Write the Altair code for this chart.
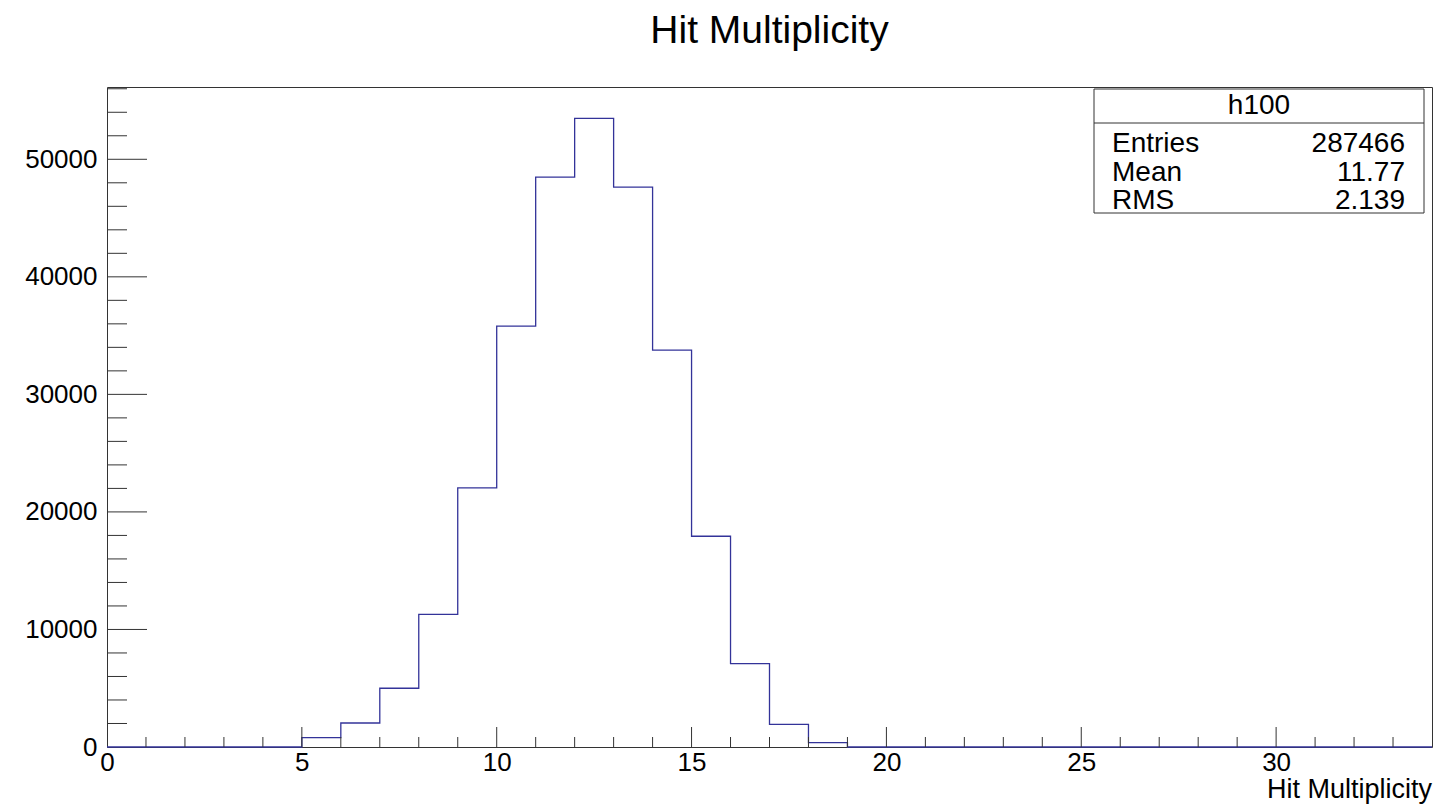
import altair as alt
import pandas as pd

# ---- data ----
bin_low = list(range(34))
counts = [0, 0, 0, 0, 0,
          800, 2040, 5000, 11290, 22050, 35800, 48480, 53480, 47630,
          33760, 17930, 7100, 1930, 375,
          0, 0, 0, 0, 0, 0, 0, 0, 0, 0, 0, 0, 0, 0, 0]
x_major = [5, 10, 15, 20, 25, 30]
x_minor = [v for v in range(1, 34) if v % 5 != 0]
y_major = [10000, 20000, 30000, 40000, 50000]
y_minor = [v for v in range(2000, 56001, 2000) if v % 10000 != 0]
x_labels = [0, 5, 10, 15, 20, 25, 30]
y_labels = [0, 10000, 20000, 30000, 40000, 50000]
stat_names = ["Entries", "Mean", "RMS"]
stat_values = ["287466", "11.77", "2.139"]
hist_name = "h100"
title_text = "Hit Multiplicity"
x_title = "Hit Multiplicity"

W, H = 1325, 660
FONT = "Liberation Sans"
LINE = "#333399"

hist = pd.DataFrame({"x": bin_low + [34], "y": counts + [counts[-1]]})

xs = alt.Scale(domain=[0, 34], nice=False, zero=False)
ys = alt.Scale(domain=[0, 56150], nice=False)

line = alt.Chart(hist).mark_line(interpolate="step-after", color=LINE, strokeWidth=1.3).encode(
    x=alt.X("x:Q", scale=xs,
            axis=alt.Axis(values=x_labels, format="d", title=None,
                          labelPadding=2, labelFlush=False, grid=False, domain=False,
                          ticks=False, labelFont=FONT, labelFontSize=26,
                          labelColor="black")),
    y=alt.Y("y:Q", scale=ys,
            axis=alt.Axis(values=y_labels, format="d", title=None, labelPadding=10,
                          grid=False, domain=False, ticks=False, labelFont=FONT,
                          labelFontSize=26, labelColor="black")),
)

def xticks(vals, length):
    return alt.Chart(pd.DataFrame({"v": vals})).mark_rule(color="#333", strokeWidth=1).encode(
        x=alt.X("v:Q", scale=xs), y=alt.value(H), y2=alt.value(H - length))

def yticks(vals, length):
    return alt.Chart(pd.DataFrame({"v": vals})).mark_rule(color="#333", strokeWidth=1).encode(
        y=alt.Y("v:Q", scale=ys), x=alt.value(0), x2=alt.value(length))

one = pd.DataFrame({"a": [0]})
bx0, bx1, by0, by1 = 987, 1317, 2, 126
box = alt.Chart(one).mark_rect(fill="white", stroke="#333", strokeWidth=1).encode(
    x=alt.value(bx0), x2=alt.value(bx1), y=alt.value(by0), y2=alt.value(by1))
sep = alt.Chart(one).mark_rule(color="#333", strokeWidth=1).encode(
    x=alt.value(bx0), x2=alt.value(bx1), y=alt.value(36))
head = alt.Chart(pd.DataFrame({"t": [hist_name]})).mark_text(
    font=FONT, fontSize=28, align="center", baseline="middle", color="black").encode(
    text="t:N", x=alt.value((bx0 + bx1) / 2), y=alt.value(19))

title = alt.Chart(pd.DataFrame({"t": [title_text]})).mark_text(
    font=FONT, fontSize=39, align="center", baseline="alphabetic", color="black").encode(
    text="t:N", x=alt.value(W / 2), y=alt.value(-44))

xtitle = alt.Chart(pd.DataFrame({"t": [x_title]})).mark_text(
    font=FONT, fontSize=27, align="right", baseline="alphabetic", color="black").encode(
    text="t:N", x=alt.value(W), y=alt.value(H + 51))

texts = []
for i, (n, v) in enumerate(zip(stat_names, stat_values)):
    yy = 57 + i * 28.5
    texts.append(alt.Chart(pd.DataFrame({"t": [n]})).mark_text(
        font=FONT, fontSize=28, align="left", baseline="middle", color="black").encode(
        text="t:N", x=alt.value(1005), y=alt.value(yy)))
    texts.append(alt.Chart(pd.DataFrame({"t": [v]})).mark_text(
        font=FONT, fontSize=28, align="right", baseline="middle", color="black").encode(
        text="t:N", x=alt.value(1298), y=alt.value(yy)))

chart = alt.layer(
    line,
    xticks(x_minor, 10), xticks(x_major, 20),
    yticks(y_minor, 20), yticks(y_major, 40),
    box, sep, head, title, xtitle, *texts,
).properties(
    width=W, height=H,
    padding={"left": 107, "top": 87, "right": 12, "bottom": 60},
    autosize=alt.AutoSizeParams(type="none"),
    background="white",
).configure_view(stroke="#333", strokeWidth=1)

chart.save("out.html", embed_options={"renderer": "svg", "actions": False})
